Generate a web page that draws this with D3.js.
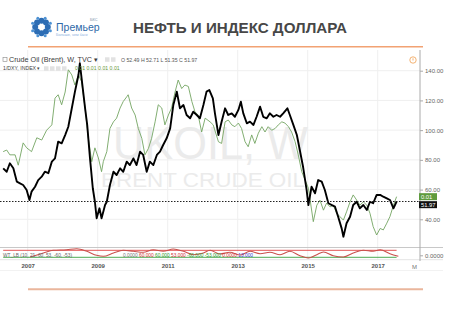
<!DOCTYPE html>
<html>
<head>
<meta charset="utf-8">
<script src="https://cdn.jsdelivr.net/npm/d3@7"></script>
<style>
body { margin: 0; background: #fff; }
svg { display: block; font-family: 'Liberation Sans', Arial, sans-serif; }
</style>
</head>
<body>
<script>
// brent weekly closes (decimal years)
var brentYears = [
	2006.30, 2006.40, 2006.49, 2006.59, 2006.69, 2006.78, 2006.87, 2006.97,
	2007.05, 2007.11, 2007.21, 2007.30, 2007.40, 2007.49, 2007.59, 2007.69, 2007.78, 2007.87, 2007.97,
	2008.07, 2008.16, 2008.26, 2008.35, 2008.45, 2008.49, 2008.54, 2008.64, 2008.70, 2008.78, 2008.86, 2008.92, 2008.97,
	2009.05, 2009.11, 2009.16, 2009.21, 2009.26, 2009.35, 2009.45, 2009.54, 2009.64, 2009.73, 2009.83, 2009.92,
	2010.02, 2010.11, 2010.21, 2010.30, 2010.40, 2010.49, 2010.59, 2010.69, 2010.78, 2010.87, 2010.97,
	2011.07, 2011.16, 2011.26, 2011.35, 2011.45, 2011.54, 2011.64, 2011.73, 2011.83, 2011.92,
	2012.02, 2012.11, 2012.19, 2012.29, 2012.35, 2012.45, 2012.54, 2012.64, 2012.73, 2012.83, 2012.92,
	2013.02, 2013.09, 2013.16, 2013.26, 2013.35, 2013.45, 2013.54, 2013.64, 2013.73, 2013.83, 2013.92,
	2014.02, 2014.11, 2014.21, 2014.30, 2014.42, 2014.49, 2014.59, 2014.69, 2014.78, 2014.87, 2014.97,
	2015.02, 2015.11, 2015.21, 2015.30, 2015.40, 2015.49, 2015.59, 2015.69, 2015.78, 2015.87, 2015.97,
	2016.02, 2016.11, 2016.21, 2016.30, 2016.40, 2016.49, 2016.59, 2016.69, 2016.78, 2016.87, 2016.97,
	2017.07, 2017.16, 2017.26, 2017.35, 2017.45, 2017.54];
var brentValues = [
	74.3, 72.0, 77.7, 74.3, 65.3, 64.2, 63.1, 59.7,
	53.0, 58.6, 61.9, 66.4, 68.7, 72.0, 71.0, 78.8, 81.0, 92.2, 91.1,
	96.7, 102.3, 114.7, 125.9, 137.1, 145.0, 134.9, 114.7, 103.5, 81.0, 60.9, 51.8, 40.7,
	47.4, 40.7, 45.1, 49.6, 51.8, 63.1, 72.0, 69.8, 74.3, 72.0, 78.8, 76.5,
	81.0, 76.5, 85.5, 83.3, 72.0, 78.8, 76.5, 83.3, 85.5, 90.0, 94.5,
	101.2, 116.9, 125.9, 114.7, 116.9, 110.2, 108.0, 112.4, 110.2, 108.0,
	116.9, 125.9, 127.0, 121.4, 111.3, 96.7, 105.7, 114.7, 110.2, 111.3, 109.0,
	113.6, 119.1, 111.3, 104.6, 105.7, 103.5, 109.0, 115.8, 109.0, 108.0, 111.3,
	109.0, 110.2, 109.0, 111.3, 114.7, 110.2, 103.5, 96.7, 86.0, 75.0, 59.7,
	49.6, 61.9, 57.5, 66.4, 65.3, 59.7, 50.8, 49.6, 48.5, 41.7, 33.9,
	28.3, 37.3, 41.7, 49.6, 51.8, 47.4, 49.6, 46.3, 51.8, 50.8, 56.4,
	56.4, 55.2, 54.1, 53.0, 47.4, 51.97];

// dollar index, drawn as 1/DXY on its own hidden scale
var dxyYears = [
	2006.30, 2006.40, 2006.49, 2006.64, 2006.73, 2006.87, 2006.97,
	2007.11, 2007.26, 2007.40, 2007.54, 2007.69, 2007.78, 2007.87, 2007.97,
	2008.07, 2008.16, 2008.26, 2008.35, 2008.45, 2008.54, 2008.64, 2008.73, 2008.83, 2008.92,
	2009.02, 2009.11, 2009.16, 2009.26, 2009.35, 2009.45, 2009.54, 2009.64, 2009.73, 2009.83, 2009.87, 2009.97,
	2010.07, 2010.16, 2010.26, 2010.35, 2010.45, 2010.54, 2010.64, 2010.73, 2010.83, 2010.92,
	2011.02, 2011.11, 2011.21, 2011.30, 2011.40, 2011.49, 2011.59, 2011.69, 2011.78, 2011.87, 2011.97,
	2012.07, 2012.21, 2012.30, 2012.45, 2012.54, 2012.64, 2012.73, 2012.83, 2012.92,
	2013.02, 2013.11, 2013.21, 2013.30, 2013.40, 2013.49, 2013.59, 2013.69, 2013.78, 2013.87, 2013.97,
	2014.07, 2014.16, 2014.26, 2014.35, 2014.45, 2014.54, 2014.64, 2014.73, 2014.83,
	2015.02, 2015.16, 2015.26, 2015.35, 2015.45, 2015.54, 2015.64, 2015.73, 2015.83, 2015.92,
	2016.02, 2016.11, 2016.21, 2016.30, 2016.40, 2016.49, 2016.59, 2016.69, 2016.78, 2016.87, 2016.97,
	2017.07, 2017.16, 2017.26, 2017.35, 2017.45, 2017.54];
var dxyValues = [
	84.3, 84.0, 84.9, 84.9, 86.9, 82.7, 83.6,
	84.3, 81.8, 82.2, 80.5, 79.6, 75.4, 74.9, 76.4,
	74.5, 71.4, 72.1, 73.5, 72.1, 73.0, 76.9, 81.8, 86.2, 83.6,
	85.5, 88.2, 86.2, 84.3, 80.2, 79.1, 78.5, 76.9, 75.9, 75.2, 74.9, 76.9,
	78.0, 80.2, 81.9, 84.9, 83.7, 81.9, 79.1, 76.4, 76.9, 79.6,
	78.0, 76.9, 74.5, 72.8, 74.0, 73.5, 73.7, 75.9, 77.5, 78.0, 80.8,
	78.5, 79.1, 79.6, 82.5, 82.8, 79.1, 78.8, 79.6, 79.9,
	79.3, 80.2, 82.5, 83.4, 81.3, 82.8, 81.0, 79.9, 80.8, 79.9, 80.5,
	80.2, 79.6, 79.1, 79.3, 79.9, 80.8, 82.5, 84.9, 88.2,
	91.7, 99.7, 95.6, 94.4, 96.8, 95.1, 96.0, 95.6, 97.6, 98.4,
	99.3, 97.2, 94.8, 93.2, 94.4, 95.6, 94.8, 95.6, 97.6, 101.0, 103.3,
	101.5, 101.9, 100.1, 98.4, 95.6, 93.6];

// oscillator in the lower pane
var oscYears = [2007.07, 2007.45, 2007.73, 2008.11, 2008.40, 2008.69, 2008.97, 2009.16, 2009.45, 2009.73,
	2010.02, 2010.30, 2010.59, 2010.87, 2011.16, 2011.45, 2011.73, 2012.02, 2012.21, 2012.49,
	2012.78, 2013.07, 2013.35, 2013.64, 2013.92, 2014.21, 2014.49, 2014.78, 2015.02, 2015.26,
	2015.45, 2015.73, 2016.02, 2016.30, 2016.59, 2016.87, 2017.07, 2017.35, 2017.59];
var oscValues = [-55, 14, 60, 70, 87, 43, -26, -43, 14, 60,
	43, 26, 70, 43, 82, 43, -15, 14, 60, -3,
	26, -21, 43, 2, 26, -15, 43, -33, -72, -15,
	31, -33, -55, 14, 60, 43, 70, 2, -43];
var oscLevels = [60, -60];
var oscLevelColors = ['#e04040', '#3aa040'];

var yearTicks = [2007, 2009, 2011, 2013, 2015, 2017];
var priceTicks = [40, 60, 80, 100, 120, 140];
var legendOHLC = 'O 52.49  H 52.71  L 51.35  C 51.97';
var paneValues = [
	{t: '0.0000', c: '#777'}, {t: '60.000', c: '#d03030'}, {t: '60.000', c: '#2e9a2e'},
	{t: '53.000', c: '#d03030'}, {t: '-60.000', c: '#2e9a2e'}, {t: '-53.000', c: '#2e9a2e'},
	{t: '0.0000', c: '#d03030'}, {t: '13.000', c: '#3a3ad0'}];

var width = 450, height = 314;
var svg = d3.select('body').append('svg')
	.attr('width', width)
	.attr('height', height);

var x = d3.scaleLinear().domain([2007, 2017]).range([27.7, 377.7]);
var y = d3.scaleLinear().domain([40, 140]).range([219.3, 70.7]);
var y2 = d3.scaleLinear().domain([1 / 71.3, 1 / 103.3]).range([69, 235]);
var yOsc = d3.scaleLinear().domain([-60, 60]).range([257.3, 250.3]);

// header
var logo = svg.append('g').attr('transform', 'translate(41.5,27)');
d3.range(8).forEach(function (i) {
	var a = i * Math.PI / 4;
	logo.append('circle').attr('cx', Math.cos(a) * 6.3).attr('cy', Math.sin(a) * 6.3)
		.attr('r', 3).attr('fill', '#2d6db4');
	var b = a + Math.PI / 8;
	logo.append('circle').attr('cx', Math.cos(b) * 9.6).attr('cy', Math.sin(b) * 9.6)
		.attr('r', 1.5).attr('fill', '#4d92d4');
});
logo.append('circle').attr('r', 2.6).attr('fill', '#fff');

svg.append('text').attr('x', 56).attr('y', 30.5)
	.attr('font-size', '10.5px').attr('fill', '#2f6aa8').text('Премьер');
svg.append('text').attr('x', 90).attr('y', 21)
	.attr('font-size', '3.8px').attr('fill', '#7a8ea8').text('БКС');
svg.append('text').attr('x', 56).attr('y', 35.6)
	.attr('font-size', '3.8px').attr('fill', '#8fb3dd').text('Больше, чем банк');

svg.append('text').attr('x', 133).attr('y', 33.3)
	.attr('font-size', '15px').attr('font-weight', 'bold').attr('fill', '#474747')
	.attr('textLength', 214).attr('lengthAdjust', 'spacingAndGlyphs')
	.text('НЕФТЬ И ИНДЕКС ДОЛЛАРА');

svg.append('line').attr('x1', 28).attr('x2', 423).attr('y1', 46.7).attr('y2', 46.7)
	.attr('stroke', '#f2a273').attr('stroke-width', 1.5);
svg.append('line').attr('x1', 28).attr('x2', 423).attr('y1', 289.3).attr('y2', 289.3)
	.attr('stroke', '#eab69c').attr('stroke-width', 2);

// grid
svg.append('g').selectAll('line').data(priceTicks).enter().append('line')
	.attr('x1', 0).attr('x2', 420)
	.attr('y1', function (d) { return y(d); }).attr('y2', function (d) { return y(d); })
	.attr('stroke', '#efefef');
svg.append('g').selectAll('line').data(yearTicks).enter().append('line')
	.attr('x1', function (d) { return x(d); }).attr('x2', function (d) { return x(d); })
	.attr('y1', 50).attr('y2', 259.5)
	.attr('stroke', '#efefef');

// watermark
svg.append('text').attr('x', 210.5).attr('y', 159).attr('text-anchor', 'middle')
	.attr('font-size', '46px').attr('fill', '#ebebeb')
	.attr('textLength', 195).attr('lengthAdjust', 'spacingAndGlyphs').text('UKOIL, W');
svg.append('text').attr('x', 203).attr('y', 187.2).attr('text-anchor', 'middle')
	.attr('font-size', '20px').attr('fill', '#ebebeb')
	.attr('textLength', 204).attr('lengthAdjust', 'spacingAndGlyphs').text('BRENT CRUDE OIL');

svg.append('clipPath').attr('id', 'main-clip').append('rect')
	.attr('x', 0).attr('y', 50).attr('width', 420).attr('height', 197);
var main = svg.append('g').attr('clip-path', 'url(#main-clip)');

var dxyLine = d3.line()
	.x(function (d, i) { return x(dxyYears[i]); })
	.y(function (d) { return y2(1 / d); });
main.append('path').datum(dxyValues)
	.attr('d', dxyLine)
	.attr('fill', 'none').attr('stroke', '#74a562').attr('stroke-width', 0.9);

var brentLine = d3.line()
	.x(function (d, i) { return x(brentYears[i]); })
	.y(function (d) { return y(d); });
main.append('path').datum(brentValues)
	.attr('d', brentLine)
	.attr('fill', 'none').attr('stroke', '#000').attr('stroke-width', 1.9)
	.attr('stroke-linejoin', 'round');

var lastBrent = brentValues[brentValues.length - 1];
var lastDxy = dxyValues[dxyValues.length - 1];
svg.append('line').attr('x1', 0).attr('x2', 420)
	.attr('y1', y(lastBrent)).attr('y2', y(lastBrent))
	.attr('stroke', '#222').attr('stroke-dasharray', '1.5,1.5');

// legend
svg.append('rect').attr('x', 3).attr('y', 57.3).attr('width', 4).attr('height', 4)
	.attr('fill', 'none').attr('stroke', '#888').attr('stroke-width', 0.6);
svg.append('text').attr('x', 9).attr('y', 62).attr('font-size', '7.2px').attr('fill', '#3a3a3a')
	.text('Crude Oil (Brent), W, TVC ▾');
svg.append('g').selectAll('rect').data([0, 1]).enter().append('rect')
	.attr('x', function (d) { return 105 + d * 6; }).attr('y', 57.3)
	.attr('width', 4.5).attr('height', 4.5).attr('fill', '#e2e2e2');
svg.append('text').attr('x', 121).attr('y', 61.6).attr('font-size', '5.2px').attr('fill', '#555')
	.text(legendOHLC);
svg.append('text').attr('x', 3).attr('y', 70.3).attr('font-size', '5.2px').attr('fill', '#444')
	.text('1/DXY, INDEX ▾');
svg.append('g').selectAll('rect').data([0, 1, 2, 3]).enter().append('rect')
	.attr('x', function (d) { return 44 + d * 6; }).attr('y', 66.3)
	.attr('width', 4.5).attr('height', 4.5).attr('fill', '#e2e2e2');
svg.append('text').attr('x', 75).attr('y', 70.3).attr('font-size', '5.2px').attr('fill', '#6a9a3a')
	.text(d3.range(4).map(function () { return d3.format('.2f')(1 / lastDxy); }).join(' '));

svg.append('circle').attr('cx', 413).attr('cy', 60).attr('r', 3.2)
	.attr('fill', 'none').attr('stroke', '#f0a050').attr('stroke-width', 0.8);
svg.append('line').attr('x1', 413).attr('x2', 413).attr('y1', 58.3).attr('y2', 60.5)
	.attr('stroke', '#f0a050').attr('stroke-width', 0.8);

// lower pane
svg.append('line').attr('x1', 0).attr('x2', 443).attr('y1', 247.5).attr('y2', 247.5)
	.attr('stroke', '#c8c8c8');
svg.append('line').attr('x1', 0).attr('x2', 443).attr('y1', 259.7).attr('y2', 259.7)
	.attr('stroke', '#e4e4e4');
svg.append('g').selectAll('line').data(oscLevels).enter().append('line')
	.attr('x1', x(brentYears[0])).attr('x2', x(brentYears[brentYears.length - 1]))
	.attr('y1', function (d) { return yOsc(d); }).attr('y2', function (d) { return yOsc(d); })
	.attr('stroke', function (d, i) { return oscLevelColors[i]; }).attr('stroke-width', 0.9);
var oscLine = d3.line()
	.x(function (d, i) { return x(oscYears[i]); })
	.y(function (d) { return yOsc(d); })
	.curve(d3.curveMonotoneX);
svg.append('path').datum(oscValues)
	.attr('d', oscLine)
	.attr('fill', 'none').attr('stroke', '#c9504c').attr('stroke-width', 1.1);
svg.append('text').attr('x', 3).attr('y', 257).attr('font-size', '4.8px').attr('fill', '#666')
	.text('WT_LB (10, 21, 60, 53, -60, -53)');
var pv = svg.append('text').attr('x', 123).attr('y', 257).attr('font-size', '4.8px');
paneValues.forEach(function (d) {
	pv.append('tspan').attr('fill', d.c).text(d.t + '  ');
});

// right axis
svg.append('line').attr('x1', 420).attr('x2', 420).attr('y1', 50).attr('y2', 261)
	.attr('stroke', '#aaa');
var ax = svg.append('g').attr('transform', 'translate(420,0)')
	.call(d3.axisRight(y).tickValues(priceTicks).tickFormat(d3.format('.2f')).tickSize(3).tickPadding(2));
ax.select('.domain').remove();
ax.selectAll('line').attr('stroke', '#aaa');
ax.selectAll('text').attr('font-size', '6px').attr('fill', '#666').attr('font-family', null);

var axOsc = svg.append('g').attr('transform', 'translate(420,1.5)')
	.call(d3.axisRight(yOsc).tickValues([0]).tickFormat(d3.format('.4f')).tickSize(3).tickPadding(2));
axOsc.select('.domain').remove();
axOsc.selectAll('line').attr('stroke', '#aaa');
axOsc.selectAll('text').attr('font-size', '6px').attr('fill', '#666').attr('font-family', null);

// last value labels
var gy = y2(1 / lastDxy);
svg.append('rect').attr('x', 419).attr('y', gy - 3.5).attr('width', 18).attr('height', 7)
	.attr('fill', '#5f9b3e');
svg.append('text').attr('x', 421).attr('y', gy + 2).attr('font-size', '5.8px').attr('fill', '#fff')
	.text(d3.format('.2f')(1 / lastDxy));
var by = Math.max(y(lastBrent), gy + 8);
svg.append('rect').attr('x', 419).attr('y', by - 3.5).attr('width', 18).attr('height', 7)
	.attr('fill', '#111');
svg.append('text').attr('x', 421).attr('y', by + 2).attr('font-size', '5.8px').attr('fill', '#fff')
	.text(d3.format('.2f')(lastBrent));

// time axis
var xa = svg.append('g').attr('transform', 'translate(0,262.3)')
	.call(d3.axisBottom(x).tickValues(yearTicks).tickFormat(d3.format('d')).tickSize(0).tickPadding(1));
xa.select('.domain').remove();
xa.selectAll('text').attr('font-size', '6px').attr('font-weight', 'bold').attr('fill', '#555')
	.attr('font-family', null);
svg.append('text').attr('x', 412).attr('y', 268.5).attr('font-size', '6px').attr('fill', '#777').text('M');
svg.append('line').attr('x1', 0).attr('x2', 443).attr('y1', 270.5).attr('y2', 270.5)
	.attr('stroke', '#f2f2f2');
</script>
</body>
</html>
